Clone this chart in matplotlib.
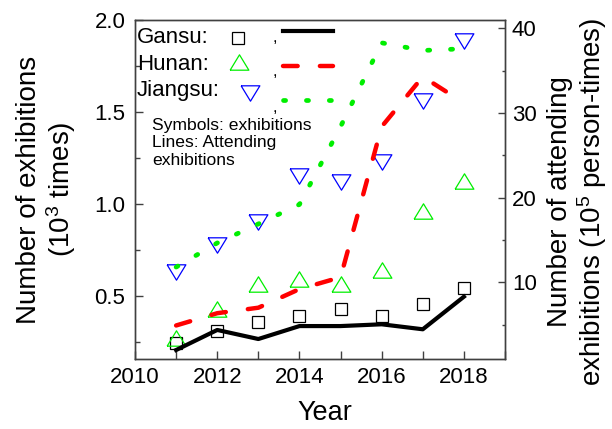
import numpy as np
import matplotlib
matplotlib.use("Agg")
import matplotlib.pyplot as plt
from matplotlib.ticker import MultipleLocator

plt.rcParams['font.family'] = ['Liberation Sans', 'DejaVu Sans']
plt.rcParams['mathtext.fontset'] = 'custom'
plt.rcParams['mathtext.rm'] = 'Liberation Sans'
plt.rcParams['mathtext.it'] = 'Liberation Sans:italic'
plt.rcParams['mathtext.bf'] = 'Liberation Sans:bold'

years = [2011, 2012, 2013, 2014, 2015, 2016, 2017, 2018]

# number of exhibitions (10^3 times) - symbols, left axis
gansu_exh = [0.24, 0.31, 0.358, 0.389, 0.429, 0.389, 0.453, 0.544]
hunan_exh = [0.267, 0.426, 0.562, 0.59, 0.564, 0.637, 0.961, 1.123]
jiangsu_exh = [0.63, 0.777, 0.903, 1.152, 1.117, 1.229, 1.558, 1.885]

# attending exhibitions (10^5 person-times) - lines, right axis
gansu_att = [2.0, 4.37, 3.3, 4.83, 4.83, 5.04, 4.45, 8.3]
hunan_att = [4.9, 6.35, 7.0, 9.2, 10.6, 28.4, 34.3, 31.2]
jiangsu_att = [11.8, 14.65, 16.9, 19.2, 28.4, 38.3, 37.4, 37.6]

BLACK = 'black'
RED = '#ff0000'
GREEN = '#00ee00'
BLUE = '#0000ff'
SPINE = '#404040'

# wide triangles like the original symbols
tri_up = [(-1, -0.82), (1, -0.82), (0, 0.82), (-1, -0.82)]
tri_down = [(-1, 0.82), (1, 0.82), (0, -0.82), (-1, 0.82)]

sq_style = dict(marker='s', ms=9, mfc='none', mec=BLACK, mew=0.9, ls='none')
up_style = dict(marker=tri_up, ms=13.5, mfc='none', mec=GREEN, mew=0.9, ls='none')
down_style = dict(marker=tri_down, ms=13.5, mfc='none', mec=BLUE, mew=0.9, ls='none')
black_line = dict(color=BLACK, lw=3.0)
red_line = dict(color=RED, lw=3.2, ls=(0, (3.3, 5.0)), dash_capstyle='round')
green_line = dict(color=GREEN, lw=3.4, ls=(0, (0.45, 4.4)), dash_capstyle='round')

fig = plt.figure(figsize=(6.12, 4.29), dpi=100)
ax = fig.add_axes([0.2206, 0.1632, 0.6046, 0.7902])
ax2 = ax.twinx()

ax.plot(years, gansu_exh, **sq_style)
ax.plot(years, hunan_exh, **up_style)
ax.plot(years, jiangsu_exh, **down_style)

ax2.plot(years, gansu_att, **black_line)
ax2.plot(years, hunan_att, **red_line)
ax2.plot(years, jiangsu_att, **green_line)

ax.set_xlim(2010, 2019)
ax.set_ylim(0.155, 2.0)
ax2.set_ylim(0.94, 41)

ax.xaxis.set_major_locator(MultipleLocator(2))
ax.xaxis.set_minor_locator(MultipleLocator(1))
ax.yaxis.set_major_locator(MultipleLocator(0.5))
ax.yaxis.set_minor_locator(MultipleLocator(0.25))
ax2.yaxis.set_major_locator(MultipleLocator(10))
ax2.yaxis.set_minor_locator(MultipleLocator(5))

ax.tick_params(axis='both', which='both', direction='in', labelsize=16,
               color=SPINE, width=1.0)
ax.tick_params(axis='y', which='major', length=5.8, pad=7)
ax.tick_params(axis='y', which='minor', length=3.4)
ax.tick_params(axis='x', which='both', length=5.5, pad=6)
ax2.tick_params(axis='y', which='both', direction='in', labelsize=16,
                color=SPINE, width=1.0, pad=5)
ax2.tick_params(axis='y', which='major', length=5.0)
ax2.tick_params(axis='y', which='minor', length=2.5)

for a in (ax, ax2):
    for sp in a.spines.values():
        sp.set_color(SPINE)
        sp.set_linewidth(1.0)

ax.set_xlabel('Year', fontsize=19.5)
ax.xaxis.set_label_coords(0.513, -0.122)
ax.set_ylabel('Number of exhibitions\n(10$^3$ times)', fontsize=20, linespacing=1.1)
ax.yaxis.set_label_coords(-0.154, 0.5)
ax2.set_ylabel('Number of attending\nexhibitions (10$^5$ person-times)', fontsize=20,
               linespacing=1.1)
ax2.yaxis.set_label_coords(1.1135, 0.463)

# hand-made legend in the top left corner
tr = ax2.transAxes
names = ['Gansu:', 'Hunan:', 'Jiangsu:']
name_y = [0.949, 0.870, 0.791]
sym_styles = [sq_style, up_style, down_style]
sym_xy = [(0.279, 0.947), (0.281, 0.877), (0.311, 0.784)]
line_styles = [black_line, red_line, green_line]
line_y = [0.968, 0.865, 0.764]
comma_y = [0.947, 0.847, 0.743]
for i in range(3):
    ax2.text(0.005, name_y[i], names[i], transform=tr, fontsize=16,
             ha='left', va='center')
    ax2.plot([sym_xy[i][0]], [sym_xy[i][1]], transform=tr, clip_on=False,
             **sym_styles[i])
    ax2.text(0.373, comma_y[i], ',', transform=tr, fontsize=12,
             ha='left', va='center')
    ax2.plot([0.399, 0.536], [line_y[i], line_y[i]], transform=tr,
             **line_styles[i])

ax2.text(0.046, 0.712, 'Symbols: exhibitions\nLines: Attending\nexhibitions',
         transform=tr, fontsize=12.6, ha='left', va='top', linespacing=1.22)

fig.savefig('out.png', dpi=100)
